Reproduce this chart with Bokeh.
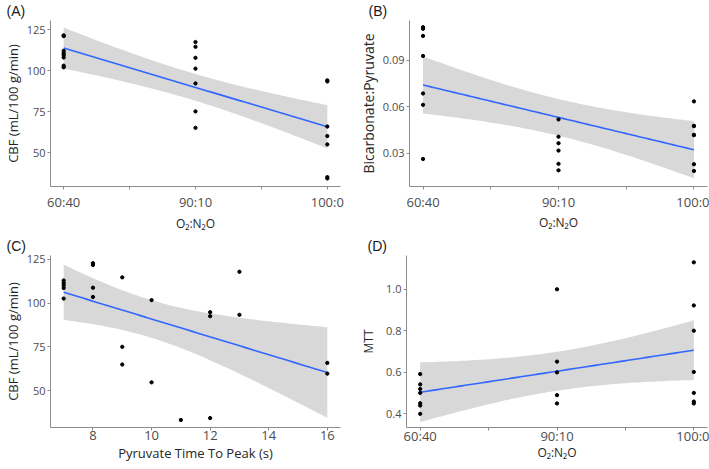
import numpy as np
from math import gamma, sqrt, pi
from bokeh.plotting import figure
from bokeh.layouts import column, row
from bokeh.models import FixedTicker, Range1d, PrintfTickFormatter, Title
from bokeh.embed import file_html
from bokeh.resources import INLINE

# ---------------- data ----------------
gas_cats = ["60:40", "90:10", "100:0"]

# (A) CBF by O2:N2O
cbf_6040 = [121.5, 121.0, 112.0, 110.5, 109.5, 108.0, 103.0, 102.0]
cbf_9010 = [117.4, 114.5, 107.8, 101.2, 92.2, 75.2, 65.2]
cbf_1000 = [94.1, 93.4, 66.0, 60.2, 55.1, 35.2, 34.4]

# (B) Bicarbonate:Pyruvate by O2:N2O
bic_6040 = [0.1111, 0.1101, 0.1055, 0.0926, 0.0685, 0.0612, 0.0264]
bic_9010 = [0.0518, 0.0407, 0.0365, 0.0318, 0.0233, 0.0191]
bic_1000 = [0.0634, 0.0477, 0.0475, 0.0419, 0.0417, 0.0230, 0.0187]

# (C) CBF vs pyruvate time to peak
ttp = [7, 7, 7, 7, 7, 8, 8, 8, 8, 9, 9, 9, 10, 10, 11, 12, 12, 12, 13, 13, 16, 16]
cbf_ttp = [112.9, 111.4, 110.1, 108.6, 102.6, 122.8, 121.8, 108.8, 103.5,
           114.7, 75.0, 64.9, 101.7, 54.7, 33.2, 94.8, 92.5, 34.3, 117.9, 93.3,
           65.8, 59.7]
ttp_ticks = [8, 10, 12, 14, 16]

# (D) MTT by O2:N2O
mtt_6040 = [0.591, 0.541, 0.519, 0.500, 0.450, 0.439, 0.399]
mtt_9010 = [1.000, 0.651, 0.599, 0.489, 0.449]
mtt_1000 = [1.130, 0.922, 0.800, 0.601, 0.500, 0.458, 0.449]

TICK_FONT = "Open Sans"
LABEL_COLOR = "#4d4d4d"
AXIS_COLOR = "#8c8c8c"


def t_ppf(p, df):
    c = gamma((df + 1) / 2) / (sqrt(df * pi) * gamma(df / 2))

    def cdf(t):
        xs = np.linspace(0, t, 4001)
        ys = c * (1 + xs ** 2 / df) ** (-(df + 1) / 2)
        return 0.5 + np.trapezoid(ys, xs)

    lo, hi = 0.0, 20.0
    for _ in range(80):
        mid = (lo + hi) / 2
        if cdf(mid) < p:
            lo = mid
        else:
            hi = mid
    return (lo + hi) / 2


def lm_band(x, y, n=80):
    x = np.asarray(x, float)
    y = np.asarray(y, float)
    X = np.column_stack([np.ones_like(x), x])
    beta = np.linalg.lstsq(X, y, rcond=None)[0]
    resid = y - X @ beta
    dof = len(x) - 2
    s2 = resid @ resid / dof
    cov = s2 * np.linalg.inv(X.T @ X)
    xg = np.linspace(x.min(), x.max(), n)
    Xg = np.column_stack([np.ones_like(xg), xg])
    fit = Xg @ beta
    se = np.sqrt(np.sum((Xg @ cov) * Xg, axis=1))
    t = t_ppf(0.975, dof)
    return xg, fit, fit - t * se, fit + t * se


def groups_to_xy(groups):
    xs, ys = [], []
    for i, g in enumerate(groups):
        xs += [i + 1] * len(g)
        ys += list(g)
    return xs, ys


def make_panel(width, height, xr, yr, borders, xlabel, ylabel, letter,
               letter_dx, xstand, ystand=2, ytitle_size="13px",
               xtitle_size="12px"):
    left, right, top, bottom = borders
    p = figure(width=width, height=height, output_backend="svg",
               toolbar_location=None, x_range=Range1d(*xr), y_range=Range1d(*yr),
               min_border_left=left, min_border_right=right,
               min_border_top=top, min_border_bottom=bottom)
    p.outline_line_color = None
    p.grid.visible = False
    p.background_fill_color = "white"
    p.border_fill_color = "white"
    for ax in (p.xaxis[0], p.yaxis[0]):
        ax.axis_line_color = AXIS_COLOR
        ax.axis_line_width = 1
        ax.major_tick_line_color = AXIS_COLOR
        ax.major_tick_out = 3
        ax.major_tick_in = 0
        ax.minor_tick_line_color = None
        ax.major_label_text_font = TICK_FONT
        ax.major_label_text_color = LABEL_COLOR
        ax.axis_label_text_font = TICK_FONT
        ax.axis_label_text_font_style = "normal"
        ax.axis_label_text_color = "#262626"
    p.xaxis.axis_label_text_font_size = xtitle_size
    p.yaxis.axis_label_text_font_size = ytitle_size
    p.xaxis.major_label_text_font_size = "13px"
    p.yaxis.major_label_text_font_size = "11px"
    p.xaxis.major_label_standoff = xstand[0]
    p.xaxis.axis_label_standoff = xstand[1]
    p.yaxis.major_label_standoff = 2
    p.yaxis.axis_label_standoff = ystand
    p.xaxis.axis_label = xlabel
    p.yaxis.axis_label = ylabel
    t = Title(text=letter, align="left", offset=letter_dx,
              standoff=-36, vertical_align="top",
              text_font="Liberation Sans", text_font_size="14px",
              text_font_style="normal", text_color="#1a1a1a")
    p.add_layout(t, "above")
    return p


def cat_axis(p):
    p.xaxis.ticker = FixedTicker(ticks=[1, 1.5, 2, 2.5, 3])
    p.xaxis.major_label_overrides = {1: gas_cats[0], 1.5: "", 2: gas_cats[1],
                                     2.5: "", 3: gas_cats[2]}


def draw(p, x, y):
    xg, fit, lo, hi = lm_band(x, y)
    p.varea(x=xg, y1=lo, y2=hi, fill_color="#d8d8d8", fill_alpha=1.0)
    p.line(xg, fit, line_color="#3366FF", line_width=1.6)
    p.scatter(x, y, size=3.3, color="black")


XLAB = "O\u2082:N\u2082O"

# (A)
pa = make_panel(355, 234, (0.9, 3.1), (29.5, 130.5), (46, 15, 20, 42),
                XLAB, "CBF (mL/100 g/min)", "(A)", -44, (3, 1))
cat_axis(pa)
pa.yaxis.ticker = FixedTicker(ticks=[50, 75, 100, 125])
xa, ya = groups_to_xy([cbf_6040, cbf_9010, cbf_1000])
draw(pa, xa, ya)

# (B)
pb = make_panel(354, 234, (0.9, 3.1), (0.0087, 0.1154), (51, 2, 13, 42),
                XLAB, "Bicarbonate:Pyruvate", "(B)", -41, (3, 0),
                ytitle_size="14px")
cat_axis(pb)
pb.yaxis.ticker = FixedTicker(ticks=[0.03, 0.06, 0.09])
pb.yaxis.formatter = PrintfTickFormatter(format="%.2f")
xb, yb = groups_to_xy([bic_6040, bic_9010, bic_1000])
draw(pb, xb, yb)

# (C)
pc = make_panel(355, 235, (6.55, 16.45), (28.9, 127.2), (46, 15, 18, 42),
                "Pyruvate Time To Peak (s)", "CBF (mL/100 g/min)", "(C)", -44,
                (0, 1), xtitle_size="13px")
pc.xaxis.ticker = FixedTicker(ticks=ttp_ticks)
pc.yaxis.ticker = FixedTicker(ticks=[50, 75, 100, 125])
draw(pc, ttp, cbf_ttp)

# (D)
pd_ = make_panel(354, 235, (0.9, 3.1), (0.333, 1.163), (51, 2, 21, 37),
                 XLAB, "MTT", "(D)", -39, (-4, -4), ystand=6, ytitle_size="12px")
cat_axis(pd_)
pd_.yaxis.ticker = FixedTicker(ticks=[0.4, 0.6, 0.8, 1.0])
pd_.yaxis.formatter = PrintfTickFormatter(format="%.1f")
xd, yd = groups_to_xy([mtt_6040, mtt_9010, mtt_1000])
draw(pd_, xd, yd)

layout = column(row(pa, pb), row(pc, pd_))
open("out.html", "w").write(file_html(layout, INLINE))
